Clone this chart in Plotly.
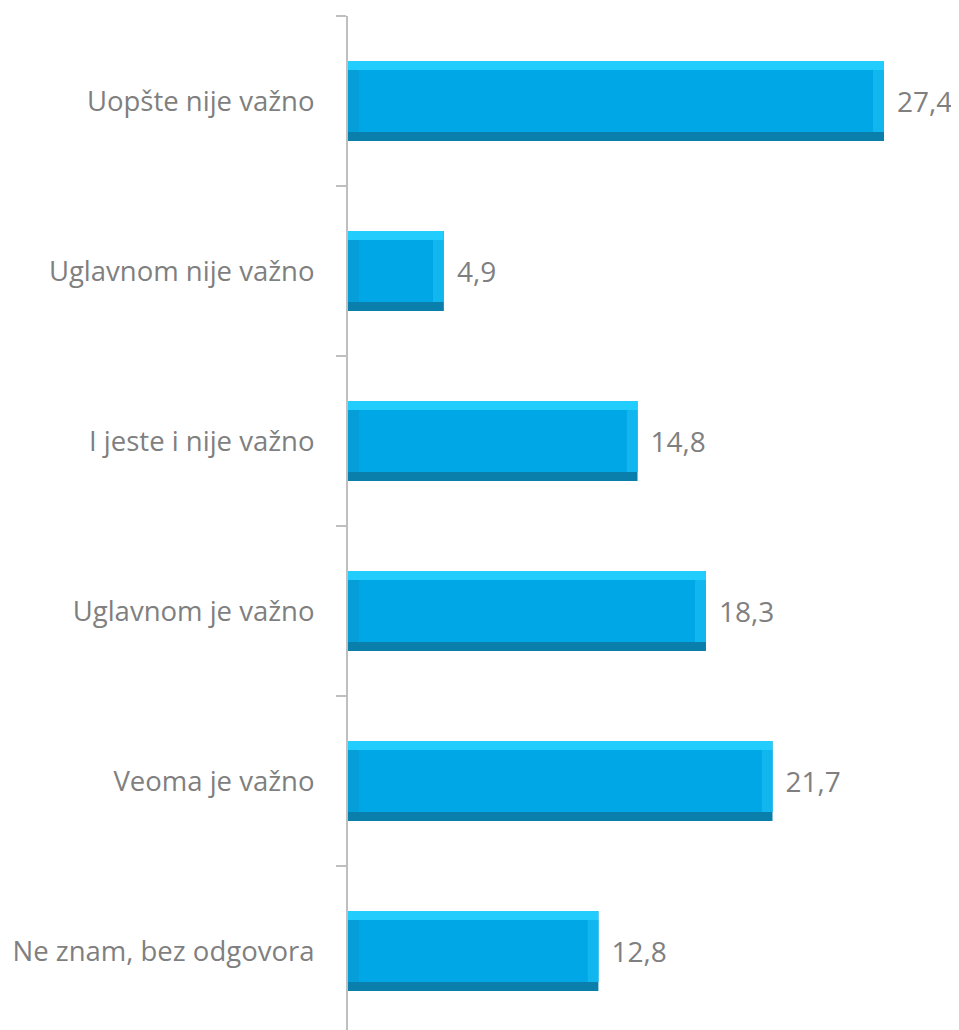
import plotly.graph_objects as go

# survey answers, percent
categories = [
    'Uopšte nije važno',
    'Uglavnom nije važno',
    'I jeste i nije važno',
    'Uglavnom je važno',
    'Veoma je važno',
    'Ne znam, bez odgovora',
]
values = [27.4, 4.9, 14.8, 18.3, 21.7, 12.8]

BAND = 170.0          # px per category
BAR_W = 80 / BAND     # bar thickness in category units
EDGE = 9 / BAND       # bevel thickness (vertical)
PX_UNIT = 536 / 27.4  # px per value unit on x
SIDE = 11 / PX_UNIT   # bevel thickness (horizontal)

fig = go.Figure()

def layer(x, base, color, off, width, **kw):
    fig.add_trace(go.Bar(
        y=categories, x=x, base=base, orientation='h',
        marker=dict(color=color, line=dict(width=0)),
        offset=off, width=width, hoverinfo='skip', showlegend=False, **kw))

# bottom (dark) bevel + value labels
layer(values, 0, '#0B7FAB', -BAR_W / 2, BAR_W,
      texttemplate='\u00a0\u200a%{x:.1f}', textposition='outside',
      textfont=dict(color='#7F7F7F', size=28), cliponaxis=False)
# top (light) bevel
layer(values, 0, '#22CCFC', -BAR_W / 2, BAR_W - EDGE)
# right bevel
layer(values, 0, '#12B6EF', -BAR_W / 2 + EDGE, BAR_W - 2 * EDGE)
# left bevel
layer([v - SIDE for v in values], 0, '#069ED9', -BAR_W / 2 + EDGE, BAR_W - 2 * EDGE)
# face
layer([v - 2 * SIDE for v in values], SIDE, '#00A7E7', -BAR_W / 2 + EDGE, BAR_W - 2 * EDGE)

# page body adds an 8px margin
W, H, L, T = 951, 1022, 340, 8
span = (H - T) / BAND

fig.update_layout(
    width=W, height=H,
    margin=dict(l=L, r=0, t=T, b=0),
    barmode='overlay',
    separators=', ',
    plot_bgcolor='white', paper_bgcolor='white',
    font=dict(family='Open Sans', color='#7F7F7F', size=28),
    xaxis=dict(range=[0, (W - L) / PX_UNIT], visible=False, showgrid=False, zeroline=False),
    yaxis=dict(
        type='category', range=[span - 0.5, -0.5],
        showline=True, linecolor='#BFBFBF', linewidth=2,
        ticks='outside', tickson='boundaries', ticklen=10, tickcolor='#BFBFBF', tickwidth=2,
        ticklabelstandoff=26, showgrid=False, zeroline=False,
        tickfont=dict(size=27.5, color='#7F7F7F'),
    ),
)

fig.write_html('out.html')
